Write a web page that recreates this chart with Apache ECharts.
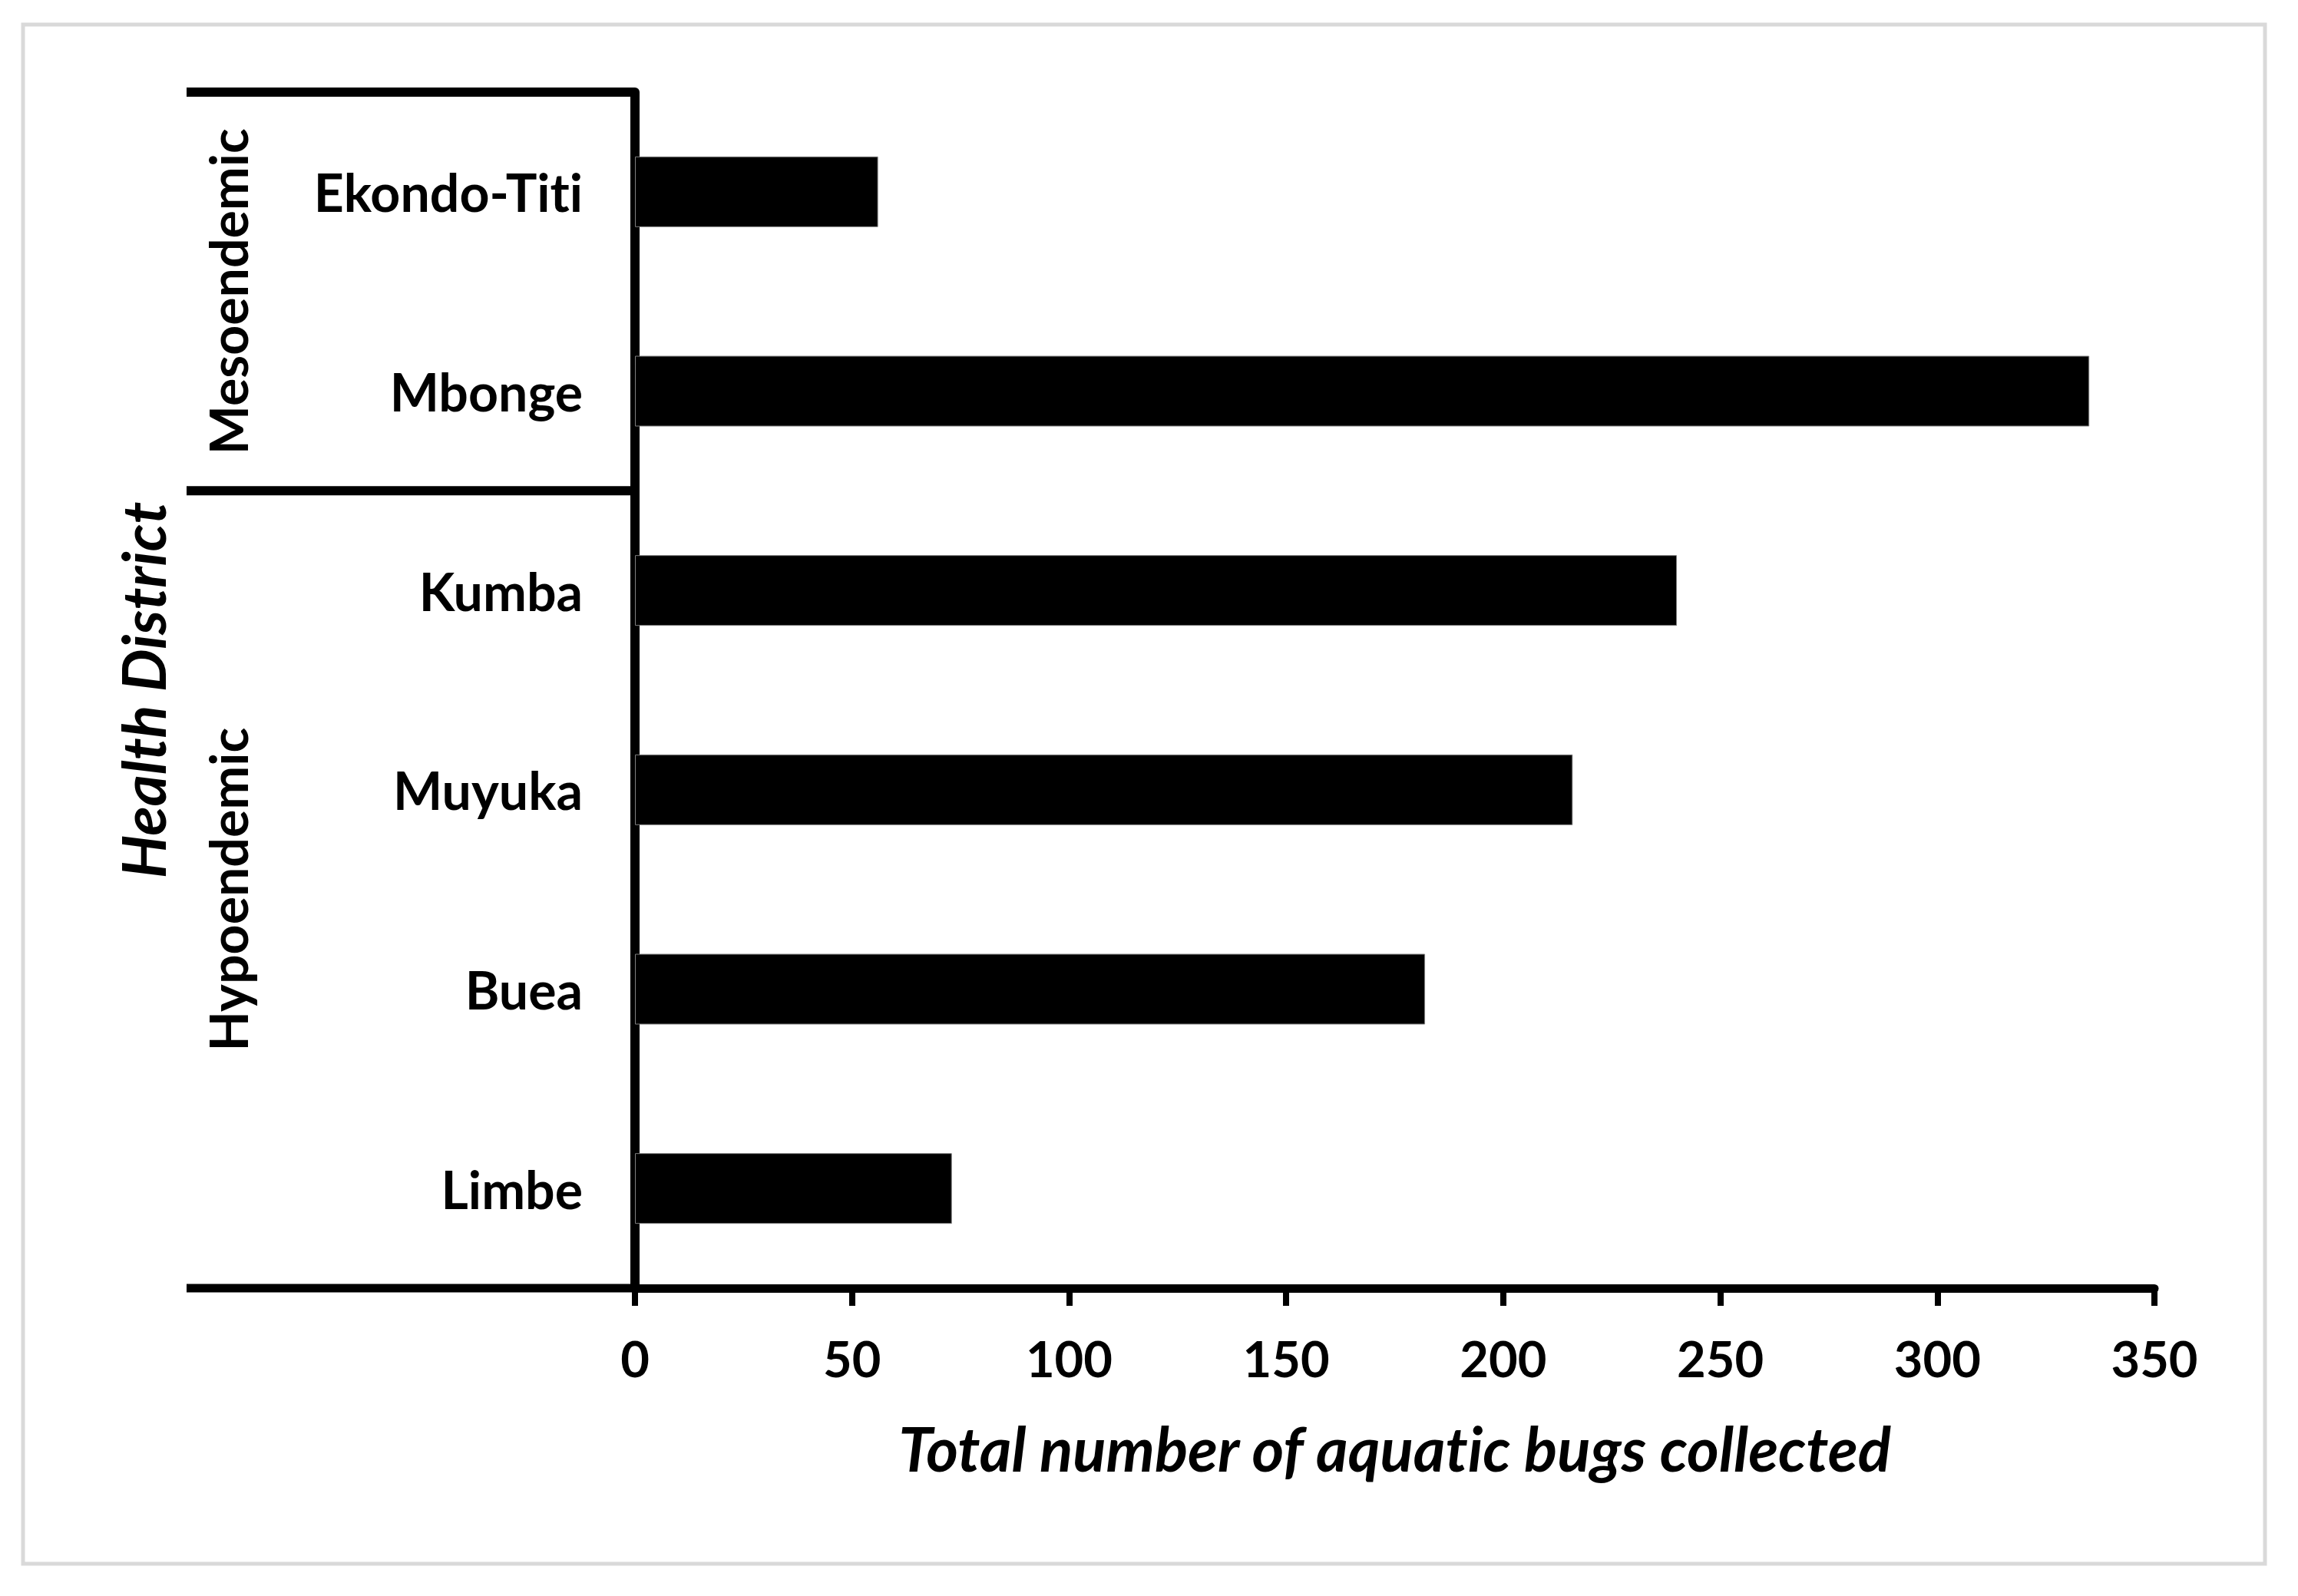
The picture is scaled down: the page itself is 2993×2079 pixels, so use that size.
<!DOCTYPE html>
<html>
<head>
<meta charset="utf-8">
<title>Aquatic bugs by health district</title>
<script src="https://cdn.jsdelivr.net/npm/echarts@6/dist/echarts.min.js"></script>
<style>
    html, body { margin: 0; padding: 0; background: #fff; }
    #chart { width: 2993px; height: 2079px; }
    #chart text { font-variant-ligatures: none; }
</style>
</head>
<body>
<div id="chart"></div>
<script>
// data
const districts = ['Ekondo-Titi', 'Mbonge', 'Kumba', 'Muyuka', 'Buea', 'Limbe'];
const bugsCollected = [56, 335, 240, 216, 182, 73];
const endemicGroups = ['Mesoendemic', 'Hypoendemic'];
const groupSizes = [2, 4];
const xTicks = [0, 50, 100, 150, 200, 250, 300, 350];

const font = 'Lato, "Open Sans", sans-serif';
const chart = echarts.init(document.getElementById('chart'), null, { renderer: 'svg' });

const option = {
    animation: false,
    backgroundColor: '#fff',
    grid: { left: 827, top: 120, width: 1979, height: 1558 },
    xAxis: {
        type: 'value',
        min: xTicks[0],
        max: xTicks[xTicks.length - 1],
        interval: xTicks[1] - xTicks[0],
        name: 'Total number of aquatic bugs collected',
        nameLocation: 'middle',
        nameGap: 168,
        nameTextStyle: {
            fontFamily: font, fontSize: 80, fontWeight: 'bold', fontStyle: 'italic', color: '#000'
        },
        axisLine: { show: true, lineStyle: { color: '#000', width: 11 } },
        axisTick: { show: true, length: 23, lineStyle: { color: '#000', width: 8 } },
        axisLabel: {
            margin: 58, fontFamily: font, fontSize: 65, fontWeight: 'bold', color: '#000'
        },
        splitLine: { show: false }
    },
    yAxis: {
        type: 'category',
        data: districts,
        inverse: true,
        axisLine: { show: true, lineStyle: { color: '#000', width: 12 } },
        axisTick: { show: false },
        axisLabel: {
            margin: 68, fontFamily: font, fontSize: 68, fontWeight: 'bold', color: '#000',
            padding: [0, 0, 8, 0]
        }
    },
    series: [{
        type: 'bar',
        data: bugsCollected,
        barWidth: 92,
        itemStyle: { color: '#000', borderColor: '#7f7f7f', borderWidth: 1 }
    }]
};

chart.setOption(option);

// group brackets on the left, placed from the category axis
const yAt = i => chart.convertToPixel({ yAxisIndex: 0 }, i);
const band = yAt(1) - yAt(0);
const axisX = chart.convertToPixel({ xAxisIndex: 0 }, 0);
const bracketLeft = 243;

const edges = [yAt(0) - band / 2];
let count = 0;
groupSizes.forEach(n => {
    count += n;
    edges.push(yAt(count - 1) + band / 2);
});

const graphics = [{
    type: 'rect',
    shape: { x: 30, y: 32, width: 2920, height: 2005 },
    style: { fill: 'none', stroke: '#d9d9d9', lineWidth: 5 },
    silent: true
}];

edges.forEach((y, i) => {
    graphics.push({
        type: 'line',
        shape: { x1: bracketLeft, y1: y, x2: axisX, y2: y },
        style: { stroke: '#000', lineWidth: i === edges.length - 1 ? 11 : 12 },
        silent: true
    });
});

endemicGroups.forEach((name, i) => {
    graphics.push({
        type: 'text',
        x: 296,
        y: (edges[i] + edges[i + 1]) / 2,
        rotation: Math.PI / 2,
        style: {
            text: name, fontFamily: font, fontSize: 68, fontWeight: 'bold',
            fill: '#000', align: 'center', verticalAlign: 'middle'
        },
        silent: true
    });
});

graphics.push({
    type: 'text',
    x: 185,
    y: (edges[0] + edges[edges.length - 1]) / 2,
    rotation: Math.PI / 2,
    style: {
        text: 'Health District', fontFamily: font, fontSize: 79, fontWeight: 'bold',
        fontStyle: 'italic', fill: '#000', align: 'center', verticalAlign: 'middle'
    },
    silent: true
});

chart.setOption({ graphic: graphics });

window.addEventListener('resize', () => {
    chart.resize();
});
</script>
</body>
</html>
